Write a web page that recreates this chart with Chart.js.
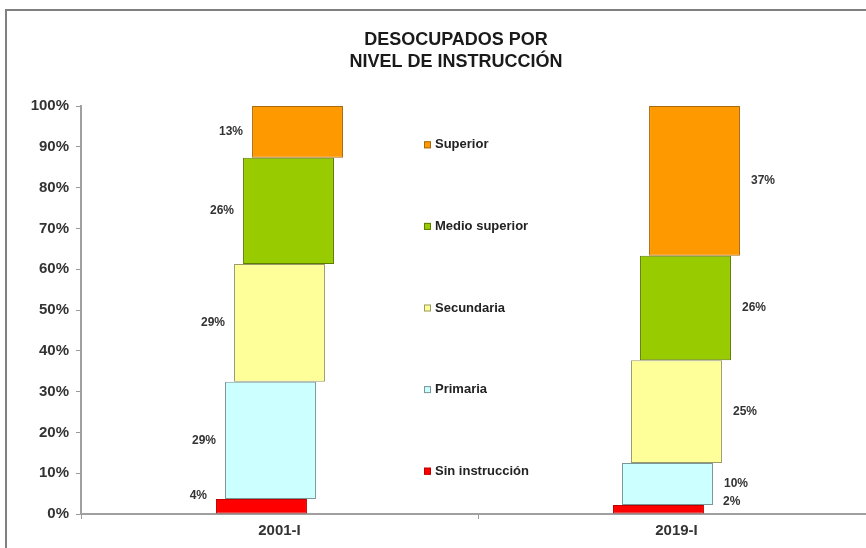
<!DOCTYPE html>
<html>
<head>
<meta charset="utf-8">
<script src="https://cdn.jsdelivr.net/npm/chart.js@4"></script>
<style>
  html, body { margin:0; padding:0; background:#fff; overflow:hidden; width:866px; height:548px; }
  #frame { position:absolute; left:5px; top:9px; width:900px; height:600px;
           border-left:2px solid #808080; border-top:2px solid #808080; }
  #wrap { position:absolute; left:0; top:0; width:890px; height:548px; }
</style>
</head>
<body>
<div id="frame"></div>
<div id="wrap"><canvas id="c" width="890" height="548"></canvas></div>
<script>
// ---- data ----
const categories = ['2001-I', '2019-I'];
const seriesNames = ['Sin instrucción', 'Primaria', 'Secundaria', 'Medio superior', 'Superior'];
const sinInstruccion = [3.7, 2.2];
const primaria       = [28.7, 10.3];
const secundaria     = [28.9, 25.2];
const medioSuperior  = [26.0, 25.6];
const superior       = [12.7, 36.7];
const yTicks = [0, 10, 20, 30, 40, 50, 60, 70, 80, 90, 100];
const titleLines = ['DESOCUPADOS POR', 'NIVEL DE INSTRUCCIÓN'];

const seriesValues = [sinInstruccion, primaria, secundaria, medioSuperior, superior];
const fills   = ['#FF0000', '#CCFFFF', '#FFFF99', '#99CC00', '#FF9900'];
const borders = ['#C00000', '#7A9696', '#9A9A6A', '#5E7D00', '#A86A10'];

// build floating ranges from cumulative sums
const cum = categories.map(() => 0);
const datasets = seriesValues.map((vals, si) => {
  const data = vals.map((v, ci) => { const s = cum[ci]; cum[ci] += v; return [s, cum[ci]]; });
  return {
    label: seriesNames[si],
    data,
    raw: vals,
    backgroundColor: fills[si],
    borderColor: borders[si],
    borderWidth: 1,
    borderSkipped: false,
    categoryPercentage: 0.1134,
    barPercentage: 10.1
  };
});

const FONT = "Arial, 'Liberation Sans', sans-serif";

const decorPlugin = {
  id: 'decor',
  afterDraw(chart) {
    const ctx = chart.ctx;
    const xs = chart.scales.x, ys = chart.scales.y;
    ctx.save();
    // title
    ctx.fillStyle = '#1a1a1a';
    ctx.font = "bold 18px " + FONT;
    ctx.textAlign = 'center';
    ctx.textBaseline = 'middle';
    ctx.fillText(titleLines[0], 456, 40);
    ctx.fillText(titleLines[1], 456, 62);

    // value labels
    ctx.font = "bold 12px " + FONT;
    ctx.fillStyle = '#333';
    chart.data.datasets.forEach((ds, di) => {
      const meta = chart.getDatasetMeta(di);
      meta.data.forEach((bar, ci) => {
        const top = Math.min(bar.y, bar.base), bot = Math.max(bar.y, bar.base);
        let y = (top + bot) / 2;
        if (bot - top < 20) y = top - 3;
        const txt = Math.round(ds.raw[ci]) + '%';
        if (ci === 0) {
          ctx.textAlign = 'right';
          ctx.fillText(txt, bar.x - bar.width / 2 - 9, y);
        } else {
          ctx.textAlign = 'left';
          const extra = (bot - top < 20) ? 8 : 0;
          ctx.fillText(txt, bar.x + bar.width / 2 + 11 + extra, y);
        }
      });
    });

    // legend (inside plot, between the two columns)
    const lx = (xs.getPixelForTick(0) + xs.getPixelForTick(1)) / 2 - 54;
    ctx.font = "bold 13px " + FONT;
    ctx.textAlign = 'left';
    for (let i = 0; i < seriesNames.length; i++) {
      const si = seriesNames.length - 1 - i;
      const y = ys.getPixelForValue(90 - 20 * i) - 2;
      ctx.fillStyle = fills[si];
      ctx.fillRect(lx, y - 3.5, 7, 7);
      ctx.strokeStyle = borders[si];
      ctx.lineWidth = 1;
      ctx.strokeRect(lx + 0.5, y - 3, 6, 6);
      ctx.fillStyle = '#222';
      ctx.fillText(seriesNames[si], lx + 11, y);
    }
    ctx.restore();
  }
};

new Chart(document.getElementById('c'), {
  type: 'bar',
  data: { labels: categories, datasets },
  options: {
    responsive: false,
    animation: false,
    layout: { padding: { top: 106, left: 0, right: 15, bottom: 0 } },
    plugins: { legend: { display: false }, title: { display: false }, tooltip: { enabled: false } },
    scales: {
      x: {
        grid: { drawOnChartArea: false, drawTicks: true, tickLength: 5, color: '#9a9a9a', offset: true },
        border: { display: true, color: '#a0a0a0', width: 2 },
        ticks: { color: '#333', font: { family: FONT, size: 15, weight: 'bold' }, padding: 3 },
        afterFit(s) { s.height = 34; }
      },
      y: {
        min: 0, max: 100,
        afterBuildTicks(s) { s.ticks = yTicks.map(v => ({ value: v })); },
        grid: { drawOnChartArea: false, drawTicks: true, tickLength: 5, color: '#9a9a9a' },
        border: { display: true, color: '#a0a0a0', width: 2 },
        ticks: { color: '#333', font: { family: FONT, size: 15, weight: 'bold' }, padding: 7,
                 callback: v => v + '%' },
        afterFit(s) { s.width = 81; }
      }
    }
  },
  plugins: [decorPlugin]
});
</script>
</body>
</html>
